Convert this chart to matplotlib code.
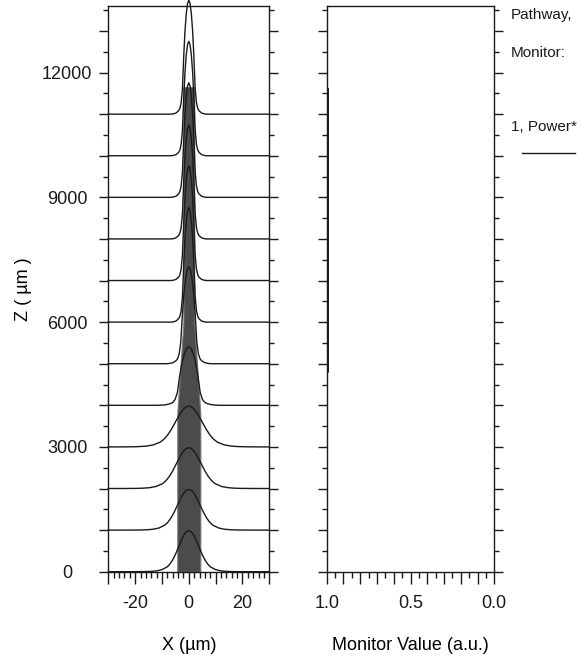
import numpy as np
import matplotlib.pyplot as plt
from matplotlib.lines import Line2D

plt.rcParams['font.family'] = ['Liberation Sans', 'DejaVu Sans']

# profile shapes (half profile, mirrored)
offsets = [0, 0.5, 1, 1.5, 2, 2.5, 3, 3.5, 4, 5, 6, 7, 8, 10, 12, 14, 16, 20, 25, 30]
wide_shape = [1.0, 0.99, 0.966, 0.925, 0.87, 0.805, 0.73, 0.655, 0.575, 0.42,
              0.29, 0.19, 0.12, 0.05, 0.02, 0.008, 0.003, 0.0005, 0, 0]
narrow_shape = [1.0, 0.97, 0.88, 0.73, 0.5, 0.22, 0.1, 0.05, 0.03, 0.01,
                0.003, 0, 0, 0, 0, 0, 0, 0, 0, 0]

# one slice every 1000 um
slice_z = [0, 1000, 2000, 3000, 4000, 5000, 6000, 7000, 8000, 9000, 10000, 11000]
slice_height = [985, 980, 980, 980, 1406, 2330, 2755, 2755, 2740, 2755, 2750, 2740]
slice_kind = ['w', 'w', 'w', 'w', 'n', 'n', 'n', 'n', 'n', 'n', 'n', 'n']
slice_scale = [1.0, 1.12, 1.22, 1.32, 1.7, 1.2, 0.95, 0.95, 0.95, 0.95, 0.95, 0.95]

# waveguide outline
wg_z = [0, 3800, 6000, 11650]
wg_half = [4.3, 4.3, 2.0, 2.0]

# monitor
mon_z = [4200, 4800, 4800, 11600]
mon_val = [1.0, 1.0, 0.993, 0.993]

y_major = list(range(0, 14000, 1000))
y_labels = ['0', '', '', '3000', '', '', '6000', '', '', '9000', '', '', '12000', '']
y_minor = list(range(500, 14000, 1000))
x_major = [-30, -20, -10, 0, 10, 20, 30]
x_labels = ['', '-20', '', '0', '', '20', '']
m_major = [round(0.1 * i, 1) for i in range(11)]
m_labels = ['0.0', '', '', '', '', '0.5', '', '', '', '', '1.0']

W, H = 585, 657
fig = plt.figure(figsize=(W / 100, H / 100), dpi=100)
ax = fig.add_axes([108.3 / W, 1 - 571.7 / H, 161 / W, 565.7 / H])
ax2 = fig.add_axes([326.7 / W, 1 - 571.7 / H, 167.6 / W, 565.7 / H])

off = np.array(offsets)
xs = np.concatenate([-off[::-1], off[1:]])

ax.fill_betweenx(wg_z, [-h for h in wg_half], wg_half, color='#4b4b4b',
                 edgecolor='#7a7a7a', lw=0.8, zorder=1)

for z, h, k, s in zip(slice_z, slice_height, slice_kind, slice_scale):
    shp = np.array(wide_shape if k == 'w' else narrow_shape)
    ys = np.concatenate([shp[::-1], shp[1:]])
    keep = np.abs(xs * s) < 30
    xx = np.concatenate([[-30], xs[keep] * s, [30]])
    yy = np.concatenate([[0], ys[keep], [0]])
    ax.plot(xx, z + h * yy, color='#1a1a1a', lw=1.0, zorder=3, clip_on=False)

ax.set_xlim(-30, 30)
ax.set_ylim(0, 13600)

ax2.plot(mon_val, mon_z, color='#1a1a1a', lw=1.4)
ax2.set_xlim(1.0, 0.0)
ax2.set_ylim(0, 13600)

for a in (ax, ax2):
    for s in a.spines.values():
        s.set_linewidth(1.0)
        s.set_color('#1a1a1a')
    a.set_yticks(y_major)
    a.set_yticks(y_minor, minor=True)
    a.tick_params(axis='y', which='major', direction='out', length=6.5, width=1.0,
                  left=True, right=True, colors='#1a1a1a')
    a.tick_params(axis='y', which='minor', direction='out', length=3.5, width=1.0,
                  left=True, right=True, colors='#1a1a1a')
    a.tick_params(axis='x', which='major', direction='out', length=8.5, width=1.0,
                  labelsize=13, pad=8.5, colors='#1a1a1a')
    a.tick_params(axis='x', which='minor', direction='out', length=4.5, width=1.0,
                  colors='#1a1a1a')

ax.set_yticklabels(y_labels)
ax.tick_params(axis='y', labelsize=13, pad=23.2)
for t in ax.get_yticklabels():
    t.set_ha('center')
ax2.set_yticklabels([])

ax.set_xticks(x_major)
ax.set_xticklabels(x_labels)
ax.set_xticks(np.arange(-30, 31, 2), minor=True)
ax2.set_xticks(m_major)
ax2.set_xticklabels(m_labels)
ax2.set_xticks(np.arange(0, 1.01, 0.05), minor=True)

ax.set_xlabel('X (µm)', fontsize=13)
ax.xaxis.set_label_coords(0.5, -0.115)
ax.set_ylabel('Z ( µm )', fontsize=13)
ax.yaxis.set_label_coords(-0.475, 0.5)
ax2.set_xlabel('Monitor Value (a.u.)', fontsize=13)
ax2.xaxis.set_label_coords(0.5, -0.115)

# legend at the right
fig.text(511 / W, 1 - 15 / H, 'Pathway,', fontsize=11, va='center', color='#1a1a1a')
fig.text(511 / W, 1 - 53 / H, 'Monitor:', fontsize=11, va='center', color='#1a1a1a')
fig.text(511 / W, 1 - 127 / H, '1, Power*', fontsize=11, va='center', color='#1a1a1a')
fig.add_artist(Line2D([521.7 / W, 575 / W], [1 - 153.3 / H, 1 - 153.3 / H],
                      color='#1a1a1a', lw=1.0))

fig.savefig('out.png', dpi=100)
